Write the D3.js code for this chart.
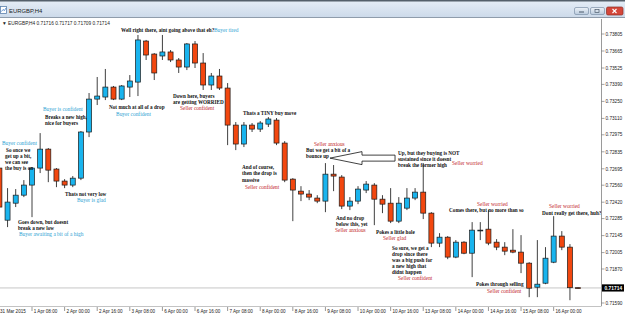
<!DOCTYPE html>
<html>
<head>
<meta charset="utf-8">
<script src="https://cdn.jsdelivr.net/npm/d3@7"></script>
<style>
body { margin: 0; background: #fff; }
svg { display: block; }
</style>
</head>
<body>
<script>
// EURGBP H4 candles, 31 Mar 2015 16:00 onward (one entry per bar)
let opens = [0.72701,0.72272,0.72412,0.72478,0.72561,0.72701,0.72857,0.72693,0.72594,0.72561,
	0.72618,0.72998,0.73269,0.73286,0.73368,0.73269,0.73368,0.73409,0.73747,0.73640,
	0.73624,0.73657,0.73591,0.73533,0.73723,0.73566,0.73385,0.73459,0.73360,0.73055,
	0.72899,0.73055,0.73022,0.73063,0.73096,0.72907,0.72610,0.72511,0.72487,0.72454,
	0.72429,0.72651,0.72627,0.72388,0.72429,0.72520,0.72561,0.72445,0.72412,0.72264,
	0.72371,0.72454,0.72503,0.72330,0.72083,0.72132,0.71968,0.72091,0.72000,0.72186,
	0.72198,0.72091,0.72050,0.72025,0.72009,0.71918,0.71720,0.71753,0.71926,0.72141,
	0.72050,0.71716];
let highs = [0.72717,0.72536,0.72528,0.72602,0.72709,0.72989,0.72866,0.72701,0.72610,0.72635,
	0.73006,0.73319,0.73451,0.73517,0.73377,0.73385,0.73467,0.73797,0.73756,0.73648,
	0.73797,0.73673,0.73607,0.73731,0.73747,0.73648,0.73484,0.73517,0.73401,0.73080,
	0.73080,0.73072,0.73088,0.73121,0.73113,0.72923,0.72618,0.72552,0.72520,0.72478,
	0.72742,0.72726,0.72643,0.72462,0.72552,0.72594,0.72577,0.72478,0.72536,0.72462,
	0.72536,0.72536,0.72742,0.72338,0.72165,0.72141,0.72108,0.72099,0.72256,0.72256,
	0.72355,0.72116,0.72091,0.72198,0.72149,0.71926,0.72108,0.72050,0.72305,0.72182,
	0.72075,0.71717];
let lows = [0.72363,0.72215,0.72380,0.72462,0.72297,0.72660,0.72585,0.72544,0.72536,0.72544,
	0.72602,0.72956,0.73220,0.73261,0.73261,0.73261,0.73286,0.73294,0.73591,0.73426,
	0.73591,0.73574,0.73484,0.73508,0.73525,0.73344,0.73344,0.73344,0.72890,0.72849,
	0.72874,0.72998,0.72998,0.73039,0.72890,0.72585,0.72264,0.72429,0.72437,0.72412,
	0.72338,0.72511,0.72363,0.72355,0.72404,0.72495,0.72231,0.72330,0.72248,0.72248,
	0.72355,0.72437,0.72281,0.72050,0.72050,0.71951,0.71959,0.71992,0.71803,0.72108,
	0.72066,0.72025,0.71984,0.72000,0.71836,0.71638,0.71638,0.71745,0.71918,0.72025,
	0.71613,0.71709];
let closes = [0.72380,0.72421,0.72478,0.72561,0.72701,0.72857,0.72684,0.72594,0.72561,0.72618,
	0.72998,0.73269,0.73294,0.73368,0.73269,0.73377,0.73418,0.73756,0.73632,0.73484,
	0.73657,0.73591,0.73533,0.73723,0.73566,0.73385,0.73459,0.73360,0.73055,0.72899,
	0.73055,0.73022,0.73072,0.73105,0.72907,0.72602,0.72520,0.72487,0.72462,0.72429,
	0.72651,0.72635,0.72388,0.72429,0.72528,0.72569,0.72445,0.72404,0.72264,0.72412,
	0.72454,0.72503,0.72330,0.72083,0.72132,0.71968,0.72091,0.72000,0.72190,0.72190,
	0.72083,0.72050,0.72017,0.72009,0.71918,0.71712,0.71745,0.71959,0.72141,0.72050,
	0.71716,0.71714];

// time labels, one every 4 bars
let timeLabels = ["31 Mar 2015","1 Apr 08:00","2 Apr 00:00","2 Apr 16:00","3 Apr 08:00",
	"6 Apr 00:00","6 Apr 16:00","7 Apr 08:00","8 Apr 00:00","8 Apr 16:00","9 Apr 08:00",
	"10 Apr 00:00","10 Apr 16:00","13 Apr 08:00","14 Apr 00:00","14 Apr 16:00",
	"15 Apr 08:00","16 Apr 00:00"];
let labelStep = 4;

let priceTicks = [0.73805,0.73665,0.73525,0.73390,0.73250,0.73110,0.72975,0.72835,0.72695,
	0.72560,0.72420,0.72285,0.72145,0.72005,0.71870,0.71730,0.71590];
let bid = 0.71714;

// chart notes: [text, kind, bar, price]
let notes = [
	["Well right there, aint going above that eh?", "k", 14.92, 0.73838],
	["Buyer tired", "b", 26.33, 0.73838],
	["Down here, buyers", "k", 21.30, 0.73294],
	["are getting WORRIED", "k", 21.30, 0.73245],
	["Seller confident", "r", 22.16, 0.73191],
	["Not much at all of a drop", "k", 13.45, 0.73204],
	["Buyer confident", "b", 14.31, 0.73146],
	["Buyer is confident", "b", 5.35, 0.73187],
	["Breaks a new high,", "k", 5.60, 0.73121],
	["nice for buyers", "k", 5.60, 0.73072],
	["Buyer confident", "b", 0.32, 0.72907],
	["So once we", "k", 0.81, 0.72853],
	["get up a bit,", "k", 0.69, 0.72801],
	["we can see", "k", 0.69, 0.72750],
	["the buy is on", "k", 0.69, 0.72698],
	["Thats not very low", "k", 8.05, 0.72487],
	["Buyer is glad", "b", 9.52, 0.72437],
	["Goes down, but doesnt", "k", 2.28, 0.72256],
	["break a new low", "k", 2.28, 0.72206],
	["Buyer awaiting a bit of a high", "b", 2.40, 0.72157],
	["Thats a TINY buy move", "k", 29.89, 0.73154],
	["Seller anxious", "r", 38.60, 0.72899],
	["But we get a bit of a", "k", 37.62, 0.72849],
	["bounce up", "k", 37.62, 0.72800],
	["Up, but they buying is NOT", "k", 48.91, 0.72824],
	["sustained since it doesnt", "k", 48.91, 0.72775],
	["break the former high", "k", 48.91, 0.72726],
	["Seller worried", "r", 55.53, 0.72742],
	["And of course,", "k", 29.77, 0.72709],
	["then the drop is", "k", 29.77, 0.72657],
	["massive", "k", 29.77, 0.72605],
	["Seller confident", "r", 30.13, 0.72544],
	["And no drop", "k", 41.30, 0.72289],
	["below this, yet", "k", 41.30, 0.72239],
	["Seller anxious", "r", 41.18, 0.72194],
	["Pokes a little hole", "k", 46.21, 0.72174],
	["Seller glad", "r", 47.07, 0.72124],
	["So sure, we get a", "k", 48.17, 0.72042],
	["drop since there", "k", 48.17, 0.71992],
	["was a big push for", "k", 48.17, 0.71943],
	["a new high that", "k", 48.17, 0.71893],
	["didnt happen", "k", 48.17, 0.71844],
	["Seller confident", "r", 48.91, 0.71794],
	["Seller worried", "r", 58.60, 0.72408],
	["Comes there, but no more than so", "k", 55.17, 0.72355],
	["Seller worried", "r", 67.44, 0.72388],
	["Dont really get there, huh?", "k", 66.58, 0.72334],
	["Pokes through selling", "k", 58.48, 0.71749],
	["Seller confident", "r", 59.83, 0.71687]
];
// the left pointing arrow object: [bar of tail, bar of tip, price]
let arrowObj = [48.54, 40.56, 0.72783];

let width = 625, height = 316;
let svg = d3.select("body").append("svg")
	.attr("width", width)
	.attr("height", height)
	.attr("font-family", "'Liberation Sans', Arial, sans-serif");

let plot = {left: 0, right: 601, top: 19, bottom: 306};

let x = d3.scaleLinear().domain([0, opens.length - 1]).range([-0.6, 578.1]);
let y = d3.scaleLinear().domain([0.71590, 0.73805]).range([303, 34]);

let noteColor = {k: "#111", b: "#2e9fd3", r: "#c3262b"};

/* window title bar */
let defs = svg.append("defs");
let tb = defs.append("linearGradient").attr("id", "tb").attr("x1", 0).attr("y1", 0).attr("x2", 0).attr("y2", 1);
tb.append("stop").attr("offset", "0%").attr("stop-color", "#e6eef7");
tb.append("stop").attr("offset", "100%").attr("stop-color", "#cbd9e9");
let btn = defs.append("linearGradient").attr("id", "btn").attr("x1", 0).attr("y1", 0).attr("x2", 0).attr("y2", 1);
btn.append("stop").attr("offset", "0%").attr("stop-color", "#eef3f8");
btn.append("stop").attr("offset", "100%").attr("stop-color", "#b9cadd");
defs.append("clipPath").attr("id", "plotclip").append("rect")
	.attr("x", plot.left).attr("y", plot.top)
	.attr("width", plot.right - plot.left).attr("height", plot.bottom - plot.top);

svg.append("rect").attr("width", width).attr("height", 18).attr("fill", "url(#tb)");
svg.append("line").attr("x1", 0).attr("x2", width).attr("y1", 0.75).attr("y2", 0.75)
	.attr("stroke", "#55606b").attr("stroke-width", 1.5);
svg.append("line").attr("x1", 0).attr("x2", width).attr("y1", 17.5).attr("y2", 17.5)
	.attr("stroke", "#8f9cab");

//little chart icon
svg.append("rect").attr("x", 0.5).attr("y", 6.5).attr("width", 6).attr("height", 7)
	.attr("fill", "#fff").attr("stroke", "#5d82ad").attr("stroke-width", 0.8);
svg.append("path").attr("d", "M1.5,11.5 L3,9.5 L4.5,10.5 L6,8").attr("fill", "none")
	.attr("stroke", "#2a6cc0").attr("stroke-width", 0.7);

svg.append("text").attr("x", 9).attr("y", 12.6).attr("font-size", 5.9).attr("fill", "#1a1a1a")
	.text("EURGBP,H4");

//window buttons
svg.append("rect").attr("x", 574.5).attr("y", 7.5).attr("width", 14).attr("height", 7).attr("rx", 1.5)
	.attr("fill", "url(#btn)").attr("stroke", "#7d91a8").attr("stroke-width", 0.7);
svg.append("line").attr("x1", 579).attr("x2", 584).attr("y1", 12).attr("y2", 12)
	.attr("stroke", "#4a5a6c").attr("stroke-width", 1);
svg.append("rect").attr("x", 590.5).attr("y", 7.5).attr("width", 14).attr("height", 7).attr("rx", 1.5)
	.attr("fill", "url(#btn)").attr("stroke", "#7d91a8").attr("stroke-width", 0.7);
svg.append("rect").attr("x", 595).attr("y", 9.5).attr("width", 4).attr("height", 3)
	.attr("fill", "none").attr("stroke", "#4a5a6c").attr("stroke-width", 0.7);
svg.append("rect").attr("x", 606.5).attr("y", 7).attr("width", 16.5).attr("height", 8).attr("rx", 1.5)
	.attr("fill", "#d4473a").attr("stroke", "#8e2b22").attr("stroke-width", 0.7);
svg.append("path").attr("d", "M612.5,9 L616.5,13 M616.5,9 L612.5,13")
	.attr("stroke", "#fff").attr("stroke-width", 1.1);

/* chart frame */
svg.append("line").attr("x1", plot.right + 0.5).attr("x2", plot.right + 0.5)
	.attr("y1", plot.top).attr("y2", plot.bottom)
	.attr("stroke", "#808080").attr("stroke-width", 0.8);
svg.append("line").attr("x1", plot.left).attr("x2", plot.right + 0.5)
	.attr("y1", plot.bottom + 0.5).attr("y2", plot.bottom + 0.5)
	.attr("stroke", "#9a9a9a").attr("stroke-width", 0.6);

let g = svg.append("g").attr("clip-path", "url(#plotclip)");

//bid line
g.append("line").attr("x1", plot.left).attr("x2", plot.right)
	.attr("y1", y(bid)).attr("y2", y(bid))
	.attr("stroke", "#b8b8b8").attr("stroke-width", 0.8);

let bars = d3.range(opens.length).map(i => ({
	i: i, o: opens[i], h: highs[i], l: lows[i], c: closes[i]
}));

let bodyW = 5;
let candle = g.selectAll("g.candle").data(bars).enter().append("g").attr("class", "candle");

candle.append("line") //wicks
	.attr("x1", d => x(d.i)).attr("x2", d => x(d.i))
	.attr("y1", d => y(d.h)).attr("y2", d => y(d.l))
	.attr("stroke", "#2a2a2a").attr("stroke-width", 0.9);

candle.append("rect") //bodies
	.attr("x", d => x(d.i) - bodyW / 2)
	.attr("width", bodyW)
	.attr("y", d => y(Math.max(d.o, d.c)))
	.attr("height", d => Math.max(0.8, Math.abs(y(d.o) - y(d.c))))
	.attr("fill", d => d.c >= d.o ? "#19b4ee" : "#f2470f")
	.attr("stroke", "#1a1a1a").attr("stroke-width", 0.7);

//the arrow object
let ax1 = x(arrowObj[0]), ax0 = x(arrowObj[1]), ay = y(arrowObj[2]);
let headLen = 32, headH = 6.5, shaftH = 3;
g.append("path")
	.attr("d", `M${ax0},${ay} L${ax0 + headLen},${ay - headH} L${ax0 + headLen},${ay - shaftH} L${ax1},${ay - shaftH}`
		+ ` L${ax1},${ay + shaftH} L${ax0 + headLen},${ay + shaftH} L${ax0 + headLen},${ay + headH} Z`)
	.attr("fill", "#fff").attr("stroke", "#111").attr("stroke-width", 0.8);

//notes
g.selectAll("text.note").data(notes).enter().append("text")
	.attr("class", "note")
	.attr("x", d => x(d[2]))
	.attr("y", d => y(d[3]) + 1.9)
	.attr("font-family", "'Liberation Serif', 'Times New Roman', serif")
	.attr("font-weight", d => d[1] === "k" ? "bold" : "normal")
	.attr("font-size", d => d[1] === "k" ? 5.2 : 5.4)
	.attr("fill", d => noteColor[d[1]])
	.text(d => d[0]);

/* price axis */
//labels that would sit under the current price box are not shown
let shownTicks = priceTicks.filter(d => Math.abs(y(d) - y(bid)) > 6);
let yAxisG = svg.append("g");
yAxisG.selectAll("line").data(priceTicks).enter().append("line")
	.attr("x1", plot.right + 0.5).attr("x2", plot.right + 3.5)
	.attr("y1", d => y(d)).attr("y2", d => y(d))
	.attr("stroke", "#666").attr("stroke-width", 0.6);
yAxisG.selectAll("text").data(shownTicks).enter().append("text")
	.attr("x", plot.right + 4.5)
	.attr("y", d => y(d) + 1.7)
	.attr("font-size", 4.7)
	.attr("fill", "#222")
	.text(d => d3.format(".5f")(d));

//current price box
svg.append("rect").attr("x", plot.right + 1).attr("y", y(bid) - 3.6)
	.attr("width", 22).attr("height", 7.2).attr("fill", "#000");
svg.append("text").attr("x", plot.right + 3.5).attr("y", y(bid) + 1.8)
	.attr("font-size", 4.9).attr("font-weight", "bold").attr("fill", "#fff")
	.text(d3.format(".5f")(bid));

/* time axis */
let tickBars = timeLabels.map((t, k) => k * labelStep);
let xAxisG = svg.append("g");
xAxisG.selectAll("line").data(tickBars).enter().append("line")
	.attr("x1", d => x(d)).attr("x2", d => x(d))
	.attr("y1", plot.bottom + 1).attr("y2", plot.bottom + 5)
	.attr("stroke", "#555").attr("stroke-width", 0.6);
xAxisG.selectAll("text").data(tickBars).enter().append("text")
	.attr("x", (d, k) => k === 0 ? 0 : x(d) + 1.8)
	.attr("y", plot.bottom + 7.3)
	.attr("font-size", 4.6)
	.attr("fill", "#222")
	.text((d, k) => timeLabels[k]);

//header line with last bar values
let last = opens.length - 1;
svg.append("text").attr("x", 2).attr("y", 25.4).attr("font-size", 4.8).attr("fill", "#222")
	.text("\u25BC EURGBP,H4  " + [opens[last], highs[last], lows[last], closes[last]]
		.map(d3.format(".5f")).join(" "));
</script>
</body>
</html>
